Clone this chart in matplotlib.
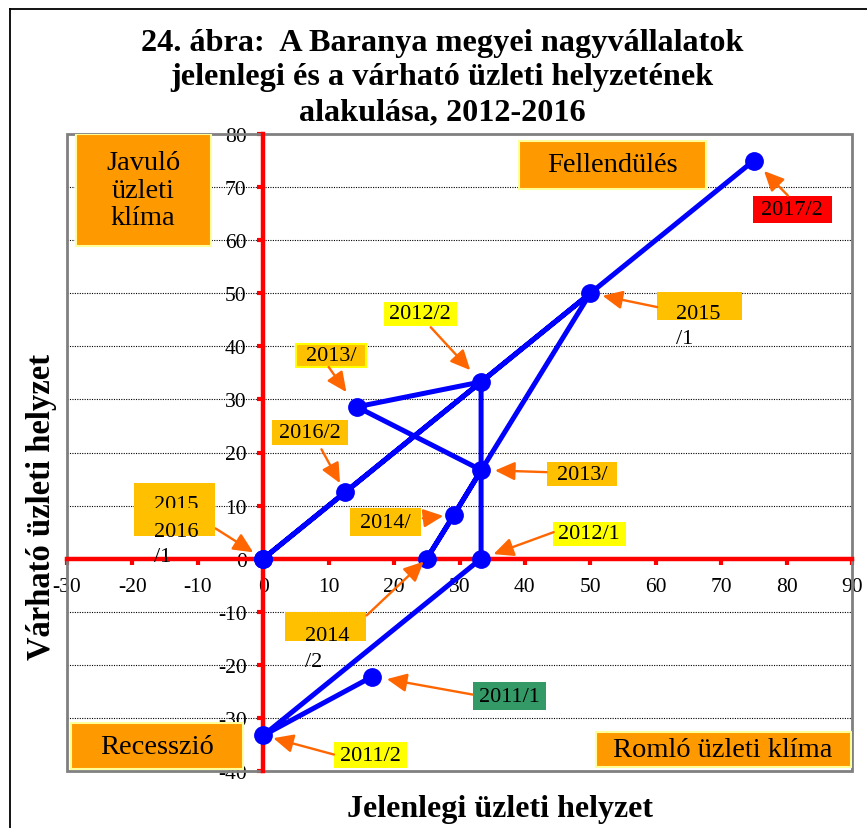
import matplotlib
matplotlib.use('Agg')
import matplotlib.pyplot as plt
from matplotlib.patches import Rectangle
from matplotlib.lines import Line2D

plt.rcParams['font.family'] = ['Liberation Serif', 'DejaVu Serif']

# ---------------- data ----------------
periods = ['2011/1', '2011/2', '2012/1', '2012/2', '2013/1', '2013/2', '2014/1',
           '2014/2', '2015/1', '2015/2', '2016/1', '2016/2', '2017/2']
current = [16.7, 0.0, 33.3, 33.3, 14.3, 33.3, 29.2, 25.0, 50.0, 0.0, 0.0, 12.5, 75.0]
expected = [-22.2, -33.3, 0.0, 33.3, 28.6, 16.7, 8.3, 0.0, 50.0, 0.0, 0.0, 12.5, 75.0]

x_ticks = list(range(-30, 91, 10))
y_ticks = list(range(-40, 81, 10))

title_lines = ['24. ábra:  A Baranya megyei nagyvállalatok',
               'jelenlegi és a várható üzleti helyzetének',
               'alakulása, 2012-2016']
x_label = 'Jelenlegi üzleti helyzet'
y_label = 'Várható üzleti helyzet'

quadrant_texts = ['Javuló\nüzleti\nklíma', 'Fellendülés', 'Recesszió', 'Romló üzleti klíma']

# ---------------- figure ----------------
W, H = 867, 829
fig = plt.figure(figsize=(W / 100, H / 100), dpi=100)
ax = fig.add_axes([67 / W, 57 / H, 785 / W, 637 / H])
ax.set_xlim(-30, 90)
ax.set_ylim(-40, 80)
ax.set_xticks(x_ticks)
ax.set_yticks(y_ticks)
ax.set_xticklabels([str(v) for v in x_ticks])
ax.set_yticklabels([str(v) for v in y_ticks])

for s in ['top', 'right']:
    ax.spines[s].set_visible(False)
ax.spines['left'].set_position(('data', 0))
ax.spines['bottom'].set_position(('data', 0))
for s in ['left', 'bottom']:
    ax.spines[s].set_color('#FF0000')
    ax.spines[s].set_linewidth(3.2)
    ax.spines[s].set_zorder(3)

ax.tick_params(axis='both', colors='#FF0000', labelcolor='black', direction='out',
               length=4, width=3, labelsize=15.5)
ax.tick_params(axis='y', pad=8)
ax.tick_params(axis='x', pad=9)
ax.grid(axis='y', color='black', linestyle=(0, (1, 1.2)), lw=0.8, zorder=0)
ax.grid(axis='x', visible=False)
ax.set_axisbelow(True)

frame = Rectangle((0, 0), 1, 1, transform=ax.transAxes, fill=False,
                  edgecolor='#808080', lw=2, zorder=2, clip_on=False)
ax.add_patch(frame)

# data line
ax.plot(current, expected, color='#0000FF', lw=3.6, marker='o', ms=12.5,
        zorder=5, clip_on=False)


def box(x0, x1, y0, y1, fc, ec=None, lw=0.0, z=6):
    ax.add_patch(Rectangle((x0, y0), x1 - x0, y1 - y0, facecolor=fc,
                           edgecolor=ec if ec else fc, lw=lw, zorder=z))


# quadrant boxes
QFC = '#FF9900'
QEC = '#FFFF99'
quad_boxes = [(-28.7, -8.0, 58.9, 80.0), (39.1, 67.7, 69.7, 78.7),
              (-29.4, -3.1, -39.7, -31.0), (50.8, 89.8, -39.3, -32.7)]
for txt, (x0, x1, y0, y1) in zip(quadrant_texts, quad_boxes):
    box(x0, x1, y0, y1, QFC, QEC, 1.5, 6)
    ax.text((x0 + x1) / 2, (y0 + y1) / 2, txt, ha='center', va='center',
            fontsize=20.5, linespacing=1.15, zorder=7)

# point labels
YEL = '#FFFF00'
GOLD = '#FFC000'
LFS = 16
arrow_kw = dict(arrowstyle='-|>,head_length=0.6,head_width=0.28',
                color='#FF6600', lw=1.7, shrinkA=0, mutation_scale=20)

simple_labels = [
    # idx, text, box(x0,x1,y0,y1), fc, ec, start(x,y), shrinkB
    (0, '2011/1', (32.0, 43.2, -28.6, -23.3), '#339966', None, (32.0, -25.6), 10.5),
    (1, '2011/2', (10.8, 21.9, -39.5, -34.6), YEL, None, (10.8, -36.9), 7.5),
    (2, '2012/1', (44.3, 55.4, 2.3, 7.0), YEL, None, (44.4, 5.0), 9.5),
    (3, '2012/2', (18.4, 29.6, 43.8, 48.4), YEL, None, (25.6, 43.6), 11.5),
    (4, '2013/', (5.0, 15.7, 36.1, 40.4), GOLD, YEL, (10.0, 36.1), 13),
    (11, '2016/2', (1.3, 12.9, 21.4, 26.1), GOLD, None, (8.9, 20.6), 7.5),
    (5, '2013/', (43.3, 54.1, 13.6, 18.2), GOLD, None, (43.3, 16.3), 10),
    (6, '2014/', (13.2, 24.1, 4.2, 9.5), GOLD, None, (24.4, 7.6), 8),
    (12, '2017/2', (74.8, 86.9, 63.3, 68.4), '#FF0000', None, (80.2, 68.4), 10.5),
]
for idx, txt, (x0, x1, y0, y1), fc, ec, (sx, sy), shr in simple_labels:
    box(x0, x1, y0, y1, fc, ec, 1.5 if ec else 0, 6)
    ax.text((x0 + x1) / 2, (y0 + y1) / 2, txt, ha='center', va='center',
            fontsize=LFS, zorder=7)
    ax.annotate('', xy=(current[idx], expected[idx]), xytext=(sx, sy),
                arrowprops=dict(arrow_kw, shrinkB=shr), zorder=6)

# 2014/2 (text overflowing box)
box(3.3, 15.7, -15.6, -10.1, GOLD)
ax.text(6.4, -14.5, '2014', ha='left', va='center', fontsize=LFS, zorder=7)
ax.text(6.4, -19.4, '/2', ha='left', va='center', fontsize=LFS, zorder=7)
ax.annotate('', xy=(current[7], expected[7]), xytext=(15.8, -10.7),
            arrowprops=dict(arrow_kw, shrinkB=3), zorder=6)

# 2015/1
box(60.2, 73.2, 44.9, 50.2, GOLD)
ax.text(63.1, 46.1, '2015', ha='left', va='center', fontsize=LFS, zorder=7)
ax.text(63.1, 41.4, '/1', ha='left', va='center', fontsize=LFS, zorder=7)
ax.annotate('', xy=(current[8], expected[8]), xytext=(60.2, 47.4),
            arrowprops=dict(arrow_kw, shrinkB=9), zorder=6)

# 2015/2 and 2016/1 (overlapping boxes)
box(-19.8, -7.3, 4.2, 14.2, GOLD, z=6)
ax.text(-16.7, 10.2, '2015', ha='left', va='center', fontsize=LFS, zorder=6.5)
box(-19.8, -7.3, 4.2, 9.6, GOLD, z=6.8)
ax.text(-16.7, 5.1, '2016', ha='left', va='center', fontsize=LFS, zorder=7)
ax.text(-16.7, 0.5, '/1', ha='left', va='center', fontsize=LFS, zorder=7)
ax.annotate('', xy=(current[10], expected[10]), xytext=(-7.3, 5.7),
            arrowprops=dict(arrow_kw, shrinkB=8.5), zorder=6)

# titles and axis labels
for i, line in enumerate(title_lines):
    fig.text(442 / W, 1 - (43 + 35 * i) / H, line, ha='center', va='center',
             fontsize=23.2, fontweight='bold')
fig.text(500 / W, 1 - 810 / H, x_label, ha='center', va='center',
         fontsize=23, fontweight='bold')
fig.text(42 / W, 1 - 507 / H, y_label, ha='center', va='center', rotation=90,
         fontsize=23.5, fontweight='bold')

# outer border
fig.add_artist(Line2D([9.5 / W, 9.5 / W], [0, 1 - 9.5 / H], color='black', lw=1.3))
fig.add_artist(Line2D([9.5 / W, 1], [1 - 9.5 / H, 1 - 9.5 / H], color='black', lw=1.3))

fig.savefig('out.png', dpi=100)
